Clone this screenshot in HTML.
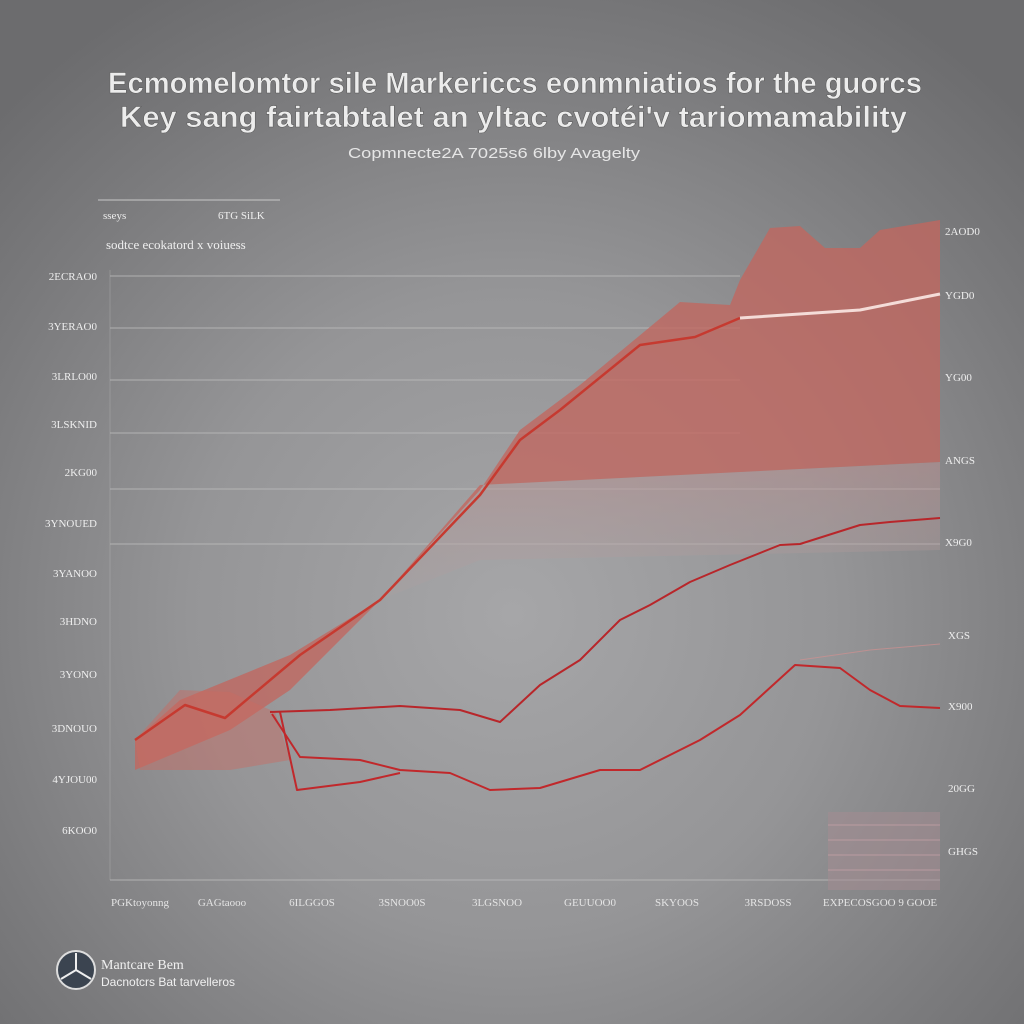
<!DOCTYPE html>
<html><head><meta charset="utf-8"><style>
html,body{margin:0;padding:0;width:1024px;height:1024px;overflow:hidden}
body{background:radial-gradient(ellipse 70% 70% at 50% 60%,#a6a6a8 0%,#959597 45%,#7a7a7c 80%,#6c6c6e 100%);font-family:"Liberation Sans",sans-serif}
svg{position:absolute;left:0;top:0}
</style></head><body>
<svg width="1024" height="1024" viewBox="0 0 1024 1024">
<defs>
<linearGradient id="band" x1="0" y1="0" x2="0" y2="1"><stop offset="0" stop-color="#b89090" stop-opacity=".55"/><stop offset="1" stop-color="#b0a0a0" stop-opacity=".2"/></linearGradient>
</defs>
<g font-family="Liberation Sans, sans-serif" fill="#ececec" stroke="#555" stroke-width="0.5" font-weight="bold">
<text x="108" y="93" font-size="30" textLength="814" lengthAdjust="spacingAndGlyphs">Ecmomelomtor sile Markericcs eonmniatios for the guorcs</text>
<text x="120" y="127" font-size="30" textLength="787" lengthAdjust="spacingAndGlyphs">Key sang fairtabtalet an yltac cvotéi'v tariomamability</text>
</g>
<text x="348" y="158" font-size="15" fill="#e6e6e6" font-family="Liberation Sans, sans-serif" textLength="292" lengthAdjust="spacingAndGlyphs">Copmnecte2A 7025s6 6lby Avagelty</text>
<line x1="98" y1="200" x2="280" y2="200" stroke="#c8c8c8" stroke-width="1"/>
<g font-size="11" fill="#eee" font-family="Liberation Serif, serif">
<text x="103" y="219">sseys</text><text x="218" y="219">6TG SiLK</text>
<text x="106" y="249" font-size="13">sodtce ecokatord x voiuess</text>
</g>
<g stroke="#bdbdbd" stroke-width="1" opacity=".8">
<line x1="110" y1="276" x2="740" y2="276"/><line x1="110" y1="328" x2="740" y2="328"/>
<line x1="110" y1="380" x2="740" y2="380"/><line x1="110" y1="433" x2="740" y2="433"/>
<line x1="110" y1="489" x2="940" y2="489"/><line x1="110" y1="544" x2="940" y2="544"/>
<line x1="110" y1="880" x2="940" y2="880"/><line x1="110" y1="270" x2="110" y2="880" opacity=".4"/>
</g>
<g font-size="11" fill="#eee" text-anchor="end" font-family="Liberation Serif, serif">
<text x="97" y="280">2ECRAO0</text><text x="97" y="330">3YERAO0</text><text x="97" y="380">3LRLO00</text>
<text x="97" y="428">3LSKNID</text><text x="97" y="476">2KG00</text><text x="97" y="527">3YNOUED</text>
<text x="97" y="577">3YANOO</text><text x="97" y="625">3HDNO</text><text x="97" y="678">3YONO</text>
<text x="97" y="732">3DNOUO</text><text x="97" y="783">4YJOU00</text><text x="97" y="834">6KOO0</text>
</g>
<g font-size="11" fill="#eee" font-family="Liberation Serif, serif">
<text x="945" y="235">2AOD0</text><text x="945" y="299">YGD0</text><text x="945" y="381">YG00</text>
<text x="945" y="464">ANGS</text><text x="945" y="546">X9G0</text><text x="948" y="639">XGS</text>
<text x="948" y="710">X900</text><text x="948" y="792">20GG</text><text x="948" y="855">GHGS</text>
</g>
<g font-size="11" fill="#e4e4e4" text-anchor="middle" font-family="Liberation Serif, serif">
<text x="140" y="906">PGKtoyonng</text><text x="222" y="906">GAGtaooo</text><text x="312" y="906">6ILGGOS</text>
<text x="402" y="906">3SNOO0S</text><text x="497" y="906">3LGSNOO</text><text x="590" y="906">GEUUOO0</text>
<text x="677" y="906">SKYOOS</text><text x="768" y="906">3RSDOSS</text><text x="880" y="906">EXPECOSGOO  9 GOOE</text>
</g>
<polygon points="480,485 940,462 940,550 480,560 380,600" fill="url(#band)"/>
<polygon points="135,740 180,700 290,655 380,600 480,490 520,430 580,385 680,302 730,305 740,280 770,228 800,226 825,248 860,248 880,230 940,220 940,462 480,485 380,600 290,690 230,730 135,770" fill="#c2675f" opacity=".78"/>
<polygon points="135,740 180,690 230,692 275,712 290,760 230,770 140,770" fill="#c96a62" opacity=".45"/>
<rect x="828" y="812" width="112" height="78" fill="#a48c92" opacity=".55"/>
<g stroke="#c9a2a8" stroke-width="1" opacity=".7">
<line x1="828" y1="825" x2="940" y2="825"/><line x1="828" y1="840" x2="940" y2="840"/><line x1="828" y1="855" x2="940" y2="855"/><line x1="828" y1="870" x2="940" y2="870"/>
</g>
<g fill="none" stroke-linejoin="round">
<polyline points="135,740 185,705 225,718 300,655 380,600 480,495 520,440 560,410 640,345 695,337 740,318" stroke="#c63a30" stroke-width="2.5"/>
<polyline points="740,318 860,310 940,294" stroke="#f4dcd8" stroke-width="3"/>
<polyline points="270,712 330,710 400,706 460,710 500,722 540,685 580,660 620,620 650,605 690,582 730,565 780,545 800,544 860,525 890,522 940,518" stroke="#b8262a" stroke-width="2"/>
<polyline points="272,714 300,757 360,760 400,770 450,773 490,790 540,788 600,770 640,770 700,740 740,715 795,665 840,668 870,690 900,706 940,708" stroke="#c1282b" stroke-width="2"/>
<polyline points="280,712 297,790 360,782 400,773" stroke="#c1282b" stroke-width="2"/>
<polyline points="800,660 870,650 940,644" stroke="#d09090" stroke-width="1" opacity=".7"/>
</g>
<circle cx="76" cy="970" r="19" fill="#3b4450" stroke="#ddd" stroke-width="2"/>
<g stroke="#eee" stroke-width="2"><line x1="76" y1="970" x2="76" y2="953"/><line x1="76" y1="970" x2="61" y2="979"/><line x1="76" y1="970" x2="91" y2="979"/></g>
<text x="101" y="969" font-size="14" fill="#f0f0f0" font-family="Liberation Serif, serif">Mantcare Bem</text>
<text x="101" y="986" font-size="12" fill="#f0f0f0" font-family="Liberation Sans, sans-serif">Dacnotcrs Bat tarvelleros</text>
</svg>
</body></html>
